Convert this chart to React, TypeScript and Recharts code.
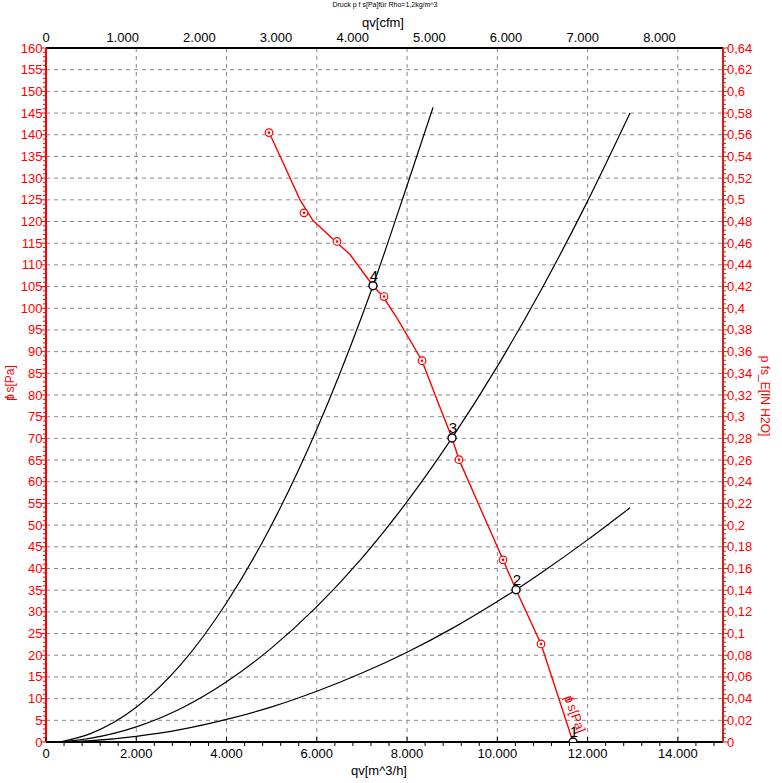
import React from "react";
import { ComposedChart, Line, XAxis, YAxis, CartesianGrid, Label } from "recharts";

// Kennlinie p fs (rot), gelesen aus dem Diagramm
const fanQ = [4948, 5251, 5628, 5916, 6448, 6736, 7245, 7467, 7799, 8331, 8663, 8996, 9151, 10126, 10414, 10968, 11677];
const fanP = [140.4, 133.6, 125.0, 120.2, 115.1, 112.4, 105.2, 102.7, 97.4, 87.9, 78.9, 70.1, 65.1, 42.0, 35.1, 22.6, 0];

// Messpunkte auf der Kennlinie
const measQ = [4941, 5716, 6447, 7489, 8331, 9151, 10126, 10968];
const measP = [140.5, 122.0, 115.4, 102.7, 87.9, 65.1, 42.0, 22.6];

// Anlagenkennlinien (schwarz)
const sysAQ = [300, 1000, 2000, 3000, 4000, 5000, 6000, 7000, 7245, 8000, 8575];
const sysAP = [0, 2.0, 8.0, 18.0, 32.1, 50.1, 72.1, 98.2, 105.2, 128.3, 146.3];
const sysBQ = [300, 1000, 2000, 3000, 4000, 5000, 6000, 7000, 8000, 8996, 10000, 11000, 12000, 12940];
const sysBP = [0, 0.9, 3.5, 7.8, 13.9, 21.7, 31.2, 42.4, 55.4, 70.1, 86.6, 104.8, 124.7, 145.0];
const sysCQ = [300, 1000, 2000, 3000, 4000, 5000, 6000, 7000, 8000, 9000, 10000, 10414, 11000, 12000, 12940];
const sysCP = [0, 0.3, 1.3, 2.9, 5.2, 8.1, 11.7, 15.9, 20.7, 26.2, 32.4, 35.1, 39.2, 46.6, 54.0];

// Betriebspunkte
const opQ = [11677, 10414, 8996, 7245];
const opP = [0, 35.1, 70.1, 105.2];
const opNames = ["1", "2", "3", "4"];

// Achsen
const qMinorTicks = Array.from({ length: 38 }, (_, i) => i * 400);
const qGridLines = [2000, 4000, 6000, 8000, 10000, 12000, 14000];
const cfmTicks = [0, 1000, 2000, 3000, 4000, 5000, 6000, 7000, 8000];
const cfmMax = 8829; // 15.000 m^3/h
const pTicks = Array.from({ length: 161 }, (_, i) => i);
const pGridLines = Array.from({ length: 31 }, (_, i) => (i + 1) * 5);
const inTicks = Array.from({ length: 161 }, (_, i) => Number((i * 0.004).toFixed(3)));

const zip = (q: number[], p: number[]) => q.map((v, i) => ({ q: v, p: p[i] }));
const fanData = zip(fanQ, fanP);
const measData = zip(measQ, measP);
const opData = opQ.map((v, i) => ({ q: v, p: opP[i], name: opNames[i] }));
// unsichtbare Hilfsreihen, damit die oberen Achsen ihre Ticks bekommen
const cfmHelper = [0, cfmMax].map((c) => ({ c, p: 0 }));
const qTopHelper = [0, 15000].map((q) => ({ q, p: 0 }));

const FONT = "'Liberation Sans', Arial, sans-serif";
const RED = "#ff0000";

function fmtThousand(v: number) {
  if (v < 1000) return String(v);
  return `${Math.floor(v / 1000)}.${String(v % 1000).padStart(3, "0")}`;
}
function fmtComma(v: number) {
  return String(Number(v.toFixed(2))).replace(".", ",");
}

function BottomTick(props: any) {
  const { x, y, payload } = props;
  const v = payload.value;
  const major = v % 2000 === 0;
  return (
    <g>
      <line x1={x} x2={x} y1={y} y2={major ? y - 5 : y + 4} stroke="#000" />
      {major && (
        <text x={x} y={y + 16} textAnchor="middle" fontSize={13} fill="#000" fontFamily={FONT}>
          {fmtThousand(v)}
        </text>
      )}
    </g>
  );
}

function TopMarkTick(props: any) {
  const { x, y, payload } = props;
  const major = payload.value % 2000 === 0;
  return <line x1={x} x2={x} y1={y} y2={major ? y + 5 : y - 4} stroke="#000" />;
}

function CfmTick(props: any) {
  const { x, y, payload } = props;
  return (
    <text x={x} y={y - 6} textAnchor="middle" fontSize={13} fill="#000" fontFamily={FONT}>
      {fmtThousand(payload.value)}
    </text>
  );
}

function LeftTick(props: any) {
  const { x, y, payload } = props;
  const v = payload.value;
  const major = v % 5 === 0;
  return (
    <g>
      <line x1={x} x2={x - (major ? 5 : 3)} y1={y} y2={y} stroke={RED} />
      {major && (
        <text x={x - 3.5} y={y + 4.5} textAnchor="end" fontSize={13} fill={RED} fontFamily={FONT}>
          {v}
        </text>
      )}
    </g>
  );
}

function RightTick(props: any) {
  const { x, y, payload } = props;
  const v = payload.value;
  const major = Math.round(v * 1000) % 20 === 0;
  return (
    <g>
      <line x1={x} x2={x + (major ? 5 : 3)} y1={y} y2={y} stroke="#d02020" />
      {major && (
        <text x={x + 4} y={y + 4.5} textAnchor="start" fontSize={13} fill={RED} fontFamily={FONT}>
          {fmtComma(v)}
        </text>
      )}
    </g>
  );
}

function MeasDot(props: any) {
  const { cx, cy, index } = props;
  return (
    <g key={`m${index}`}>
      <circle cx={cx} cy={cy} r={3.8} fill="#fff" stroke={RED} strokeWidth={1.2} />
      <circle cx={cx} cy={cy} r={1.3} fill={RED} />
    </g>
  );
}

function OpDot(props: any) {
  const { cx, cy, index } = props;
  return <circle key={`o${index}`} cx={cx} cy={cy} r={4} fill="#fff" stroke="#000" strokeWidth={1.4} />;
}

function OpLabel(props: any) {
  const { x, y, index } = props;
  return (
    <text key={`l${index}`} x={x + 1} y={y - 5} textAnchor="middle" fontSize={15} fill="#000" fontFamily={FONT}>
      {opNames[index]}
    </text>
  );
}

function FanLabel(props: any) {
  const { x, y, index } = props;
  if (index !== fanData.length - 1) return null;
  const cx = x + 2;
  const cy = y - 28;
  return (
    <text
      key="fanlabel"
      x={cx}
      y={cy + 4.5}
      textAnchor="middle"
      fontSize={13}
      fill={RED}
      fontFamily={FONT}
      transform={`rotate(70, ${cx}, ${cy})`}
    >
      <tspan>p</tspan>
      <tspan dx={-5}>f</tspan>
      <tspan> s[Pa]</tspan>
    </text>
  );
}

export default function App() {
  return (
    <div style={{ position: "absolute", left: 0, top: 0, width: 782, height: 783, background: "#fff" }}>
      <ComposedChart width={782} height={783} margin={{ top: 0, right: 0, bottom: 0, left: 0 }}>
        <CartesianGrid
          xAxisId="q"
          yAxisId="p"
          verticalValues={qGridLines}
          horizontalValues={pGridLines}
          stroke="#8a8a8a"
          strokeDasharray="4 4"
        />
        <XAxis
          xAxisId="q"
          type="number"
          dataKey="q"
          orientation="bottom"
          height={41}
          domain={[0, 15000]}
          allowDataOverflow
          ticks={qMinorTicks}
          interval={0}
          tickSize={0}
          tickMargin={0}
          tickLine={false}
          tick={<BottomTick />}
          axisLine={{ stroke: "#000", strokeWidth: 2 }}
        >
          <Label
            content={() => (
              <text x={379} y={775} textAnchor="middle" fontSize={13} fill="#000" fontFamily={FONT}>
                qv[m^3/h]
              </text>
            )}
          />
        </XAxis>
        <XAxis
          xAxisId="cfm"
          type="number"
          dataKey="c"
          orientation="top"
          height={48}
          domain={[0, cfmMax]}
          allowDataOverflow
          ticks={cfmTicks}
          interval={0}
          tickSize={0}
          tickMargin={0}
          tickLine={false}
          tick={<CfmTick />}
          axisLine={{ stroke: "#000", strokeWidth: 2 }}
        >
          <Label
            content={() => (
              <g>
                <text x={385} y={7} textAnchor="middle" fontSize={7} fill="#000" fontFamily={FONT}>
                  Druck p f s[Pa]für Rho=1,2kg/m^3
                </text>
                <text x={383} y={27} textAnchor="middle" fontSize={13} fill="#000" fontFamily={FONT}>
                  qv[cfm]
                </text>
              </g>
            )}
          />
        </XAxis>
        <XAxis
          xAxisId="qTop"
          type="number"
          dataKey="q"
          orientation="top"
          mirror
          height={0}
          domain={[0, 15000]}
          allowDataOverflow
          ticks={qMinorTicks}
          interval={0}
          tickSize={0}
          tickMargin={0}
          tickLine={false}
          tick={<TopMarkTick />}
          axisLine={false}
        />
        <YAxis
          yAxisId="p"
          type="number"
          dataKey="p"
          orientation="left"
          width={46}
          domain={[0, 160]}
          allowDataOverflow
          ticks={pTicks}
          interval={0}
          tickSize={0}
          tickMargin={0}
          tickLine={false}
          tick={<LeftTick />}
          axisLine={{ stroke: RED, strokeWidth: 2 }}
        >
          <Label
            content={() => (
              <text
                x={14}
                y={383}
                textAnchor="middle"
                fontSize={12}
                fill={RED}
                fontFamily={FONT}
                transform="rotate(-90, 14, 383)"
              >
                <tspan>p</tspan>
                <tspan dx={-5}>f</tspan>
                <tspan> s[Pa]</tspan>
              </text>
            )}
          />
        </YAxis>
        <YAxis
          yAxisId="in"
          type="number"
          orientation="right"
          width={59}
          domain={[0, 0.64]}
          allowDataOverflow
          ticks={inTicks}
          interval={0}
          tickSize={0}
          tickMargin={0}
          tickLine={false}
          tick={<RightTick />}
          axisLine={{ stroke: "#d02020", strokeWidth: 2 }}
        >
          <Label
            content={() => (
              <text
                x={761}
                y={396}
                textAnchor="middle"
                fontSize={12}
                fill={RED}
                fontFamily={FONT}
                transform="rotate(90, 761, 396)"
              >
                p fs_E[IN H2O]
              </text>
            )}
          />
        </YAxis>

        <Line xAxisId="cfm" yAxisId="p" data={cfmHelper} dataKey="p" stroke="none" dot={false} isAnimationActive={false} />
        <Line xAxisId="qTop" yAxisId="p" data={qTopHelper} dataKey="p" stroke="none" dot={false} isAnimationActive={false} />

        <Line xAxisId="q" yAxisId="p" data={zip(sysAQ, sysAP)} dataKey="p" type="monotone" stroke="#000" strokeWidth={1.2} dot={false} isAnimationActive={false} />
        <Line xAxisId="q" yAxisId="p" data={zip(sysBQ, sysBP)} dataKey="p" type="monotone" stroke="#000" strokeWidth={1.2} dot={false} isAnimationActive={false} />
        <Line xAxisId="q" yAxisId="p" data={zip(sysCQ, sysCP)} dataKey="p" type="monotone" stroke="#000" strokeWidth={1.2} dot={false} isAnimationActive={false} />
        <Line
          xAxisId="q"
          yAxisId="p"
          data={fanData}
          dataKey="p"
          type="linear"
          stroke={RED}
          strokeWidth={1.4}
          dot={false}
          label={<FanLabel />}
          isAnimationActive={false}
        />
        <Line xAxisId="q" yAxisId="p" data={measData} dataKey="p" stroke="none" dot={<MeasDot />} isAnimationActive={false} />
        <Line
          xAxisId="q"
          yAxisId="p"
          data={opData}
          dataKey="p"
          stroke="none"
          dot={<OpDot />}
          label={<OpLabel />}
          isAnimationActive={false}
        />
      </ComposedChart>
    </div>
  );
}
